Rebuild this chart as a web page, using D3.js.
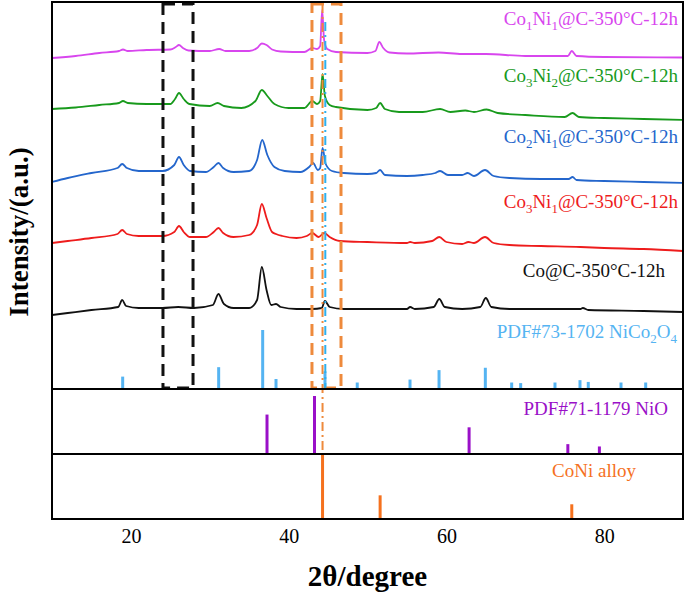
<!DOCTYPE html>
<html><head><meta charset="utf-8">
<script src="https://cdn.jsdelivr.net/npm/d3@7/dist/d3.min.js"></script>
<style>body{margin:0;background:#fff} svg{display:block}</style>
</head><body><svg id="c" width="685" height="595"></svg>
<script>
// ---------------- DATA ----------------
const xTickValues = [20, 40, 60, 80];

const seriesNames = ["Co_1Ni_1@C-350°C-12h", "Co_3Ni_2@C-350°C-12h", "Co_2Ni_1@C-350°C-12h", "Co_3Ni_1@C-350°C-12h", "Co@C-350°C-12h"];

const co1ni1Angle = [10,13,16,18.5,19,19.6,22,25,25.7,26.1,26.6,27.3,30,31.2,32,35,36.0,36.6,37.2,37.9,39,42,43.0,43.6,44.0,44.25,44.5,44.9,46,50,51.0,51.5,52.0,52.8,55,59,62,65,70,75.4,75.9,76.5,80,90];
const co1ni1Int   = [331,333,336,338,339.5,338,339,339.5,342,344,341,338.5,338,340,338,338,341,345.5,344,339.5,337.5,337,341,340,343,379,349,340,337,336,338,347,341,336.5,335.5,336.5,335,335,333,333,338,333,332,331.5];

const co3ni2Angle = [10,13,16,18.5,19.0,19.6,22,25,25.6,26.1,26.7,27.4,30,31.0,31.8,34,35.8,36.6,37.3,38.2,40,42,43.0,43.6,44.0,44.3,44.6,45.2,46,50,51.1,51.6,52.2,54,55.4,57,59.2,60.5,62.4,63.5,65.1,66.5,70,75,76.0,76.8,80,85,90];
const co3ni2Int   = [280,281.5,284,286,288,286,285,285,290,296,290,285,283,286,283,281,288,299,293,285,281,281,288,285,288,315,293,284,282,279,281,286,280,277,277,277,280,277,278.5,277,279.5,276,274,272,276,272,271,270,269];

const co2ni1Angle = [10,12,15,18.3,18.9,19.5,21,24,25.5,26.1,26.7,27.5,29.5,30.5,31.1,31.7,33,35,36.0,36.65,37.3,38.2,39.5,41.5,42.6,43.1,43.7,44.0,44.3,44.7,45.5,47,50,51.1,51.6,52.2,55,57,58.6,59.2,60.2,62,62.7,63.5,64.9,66,68,72,75.5,76.0,76.5,80,85,90];
const co2ni1Int   = [207,211,216,221,225,221,218,218,224,232,224,218,217,222,226,221,217,218,229,249,234,222,218,217,222,226,219,221,241,225,218,216,215,216,219,214,213,214,216,218,214,214,216,213,219,213,211,210,210,212,209,208,207,206];

const co3ni1Angle = [10,12,15,18.3,18.9,19.5,21,24,25.5,26.1,26.7,27.5,29.5,30.5,31.1,31.7,33,35,36.0,36.6,37.2,37.9,38.4,39.2,41,42.3,43.0,43.8,44.5,45.2,46.5,50,55,55.4,56,58.2,59.1,60,62,62.8,63.5,64.9,66,68,72,77,80,85,90];
const co3ni1Int   = [146,148,151,155,159,155,153,153,157,163,157,152,152,157,161,156,152,154,164,185,171,157,155,153,151,153,156,152,156,152,148,147,146,147,146,148,152,147,145,147,146,152,146,144,143,142,141,140,138];

const coAngle = [10,12,15,18.4,18.9,19.4,21,24,26,28,30.4,31.1,31.8,33,35,36.0,36.6,37.2,37.8,38.4,39.0,41,43,44.2,44.6,45.2,47,55,55.4,56,58.4,59.1,59.8,62,64.3,65.0,65.7,68,77,77.3,78,85,90];
const coInt   = [74,76,79,82,89,83,81,81,82,81,84,95,85,81,81,89,122,99,84,85,82,80,80,81,88,82,80,80,82,80,82,90,82,80,82,91,82,80,80,81,79,78,77];

// reference patterns (relative intensity, %)
const nico2o4Angle = [18.96,31.13,36.71,38.40,44.61,48.70,55.39,59.07,64.94,68.28,69.42,73.77,76.94,77.99,82.14,85.27];
const nico2o4Int   = [21,37,100,17,30,11,16,32,36,11,10,11,15,12,11,11];
const nioAngle = [37.26,43.28,62.88,75.4,79.4];
const nioInt   = [68,100,46,17,13];
const coniAngle = [44.3,51.6,75.9];
const coniInt   = [100,37,23];

const refNames = ["PDF#73-1702 NiCo_2O_4", "PDF#71-1179 NiO", "CoNi alloy"];
const xTitle = "2θ/degree";
const yTitle = "Intensity/(a.u.)";

// ---------------- LAYOUT ----------------
const L = 52, R = 683, T = 2, S1 = 389, S2 = 454, B = 519;
const FONT = "'Liberation Serif','Times New Roman',serif";
const svg = d3.select("#c");

const x = d3.scaleLinear().domain([10, 90]).range([L, R]);
const yTop = d3.scaleLinear().domain([0, 387]).range([S1, T]);
const yNico = d3.scaleLinear().domain([0, 100]).range([S1, 330]);
const yNio = d3.scaleLinear().domain([0, 100]).range([S2, 396]);
const yConi = d3.scaleLinear().domain([0, 100]).range([B, 455]);

const curveColors = ["#D846EE", "#189A1C", "#2466CC", "#EE1C1C", "#111111"];
const curveData = [
  [co1ni1Angle, co1ni1Int], [co3ni2Angle, co3ni2Int], [co2ni1Angle, co2ni1Int],
  [co3ni1Angle, co3ni1Int], [coAngle, coInt]
];
const labelPos = [[678, 25], [678, 82], [678, 143], [678, 208], [665, 277]];

svg.append("clipPath").attr("id", "pc").append("rect")
  .attr("x", L).attr("y", T).attr("width", R - L).attr("height", B - T);

const g = svg.append("g").attr("clip-path", "url(#pc)");

// curves
const line = d3.line().x(d => x(d[0])).y(d => yTop(d[1])).curve(d3.curveMonotoneX);
curveData.forEach((cd, i) => {
  const pts = cd[0].map((a, k) => [a, cd[1][k]]);
  g.append("path").attr("d", line(pts)).attr("fill", "none")
    .attr("stroke", curveColors[i]).attr("stroke-width", 1.8).attr("stroke-linejoin", "round");
});

// sticks
function sticks(angles, ints, ys, color) {
  g.selectAll(null).data(angles.map((a, k) => [a, ints[k]])).enter().append("line")
    .attr("x1", d => x(d[0])).attr("x2", d => x(d[0]))
    .attr("y1", ys(0)).attr("y2", d => ys(d[1]))
    .attr("stroke", color).attr("stroke-width", 3);
}
sticks(nico2o4Angle, nico2o4Int, yNico, "#55B4F2");
sticks(nioAngle, nioInt, yNio, "#9A10C8");
sticks(coniAngle, coniInt, yConi, "#F5711E");

// dashed boxes
function dbox(a0, a1, color) {
  g.append("rect").attr("x", x(a0)).attr("y", T + 2).attr("width", x(a1) - x(a0)).attr("height", S1 - 1 - T - 2)
    .attr("fill", "none").attr("stroke", color).attr("stroke-width", 3).attr("stroke-dasharray", "12,7");
}
dbox(24.07, 27.88, "#111");
dbox(42.96, 46.64, "#EE8A3C");

// dash-dot lines
g.append("line").attr("x1", x(44.3)).attr("x2", x(44.3)).attr("y1", T + 2).attr("y2", S2)
  .attr("stroke", "#EE8A3C").attr("stroke-width", 2).attr("stroke-dasharray", "9,4,2,4");
g.append("line").attr("x1", x(44.65)).attr("x2", x(44.65)).attr("y1", T + 20).attr("y2", S1)
  .attr("stroke", "#2DB0EE").attr("stroke-width", 2).attr("stroke-dasharray", "9,4,2,4");

// frame and separators
svg.append("rect").attr("x", L).attr("y", T).attr("width", R - L).attr("height", B - T)
  .attr("fill", "none").attr("stroke", "#000").attr("stroke-width", 2);
[S1, S2].forEach(s => svg.append("line").attr("x1", L).attr("x2", R).attr("y1", s).attr("y2", s)
  .attr("stroke", "#000").attr("stroke-width", 2));

// labels with subscripts
function label(str, px, py, color, size) {
  const t = svg.append("text").attr("x", px).attr("y", py).attr("text-anchor", "end")
    .attr("font-family", FONT).attr("font-size", size).attr("fill", color);
  const parts = str.split(/(_\d)/).filter(s => s.length);
  const shift = Math.round(size * 0.28);
  let pending = 0;
  parts.forEach(p => {
    if (p[0] === "_") {
      t.append("tspan").attr("dy", shift - pending).attr("font-size", Math.round(size * 0.68)).text(p.slice(1));
      pending = shift;
    } else {
      t.append("tspan").attr("dy", -pending).text(p);
      pending = 0;
    }
  });
}
seriesNames.forEach((n, i) => label(n, labelPos[i][0], labelPos[i][1], curveColors[i], 19));
label(refNames[0], 677, 338, "#55B4F2", 19);
label(refNames[1], 668, 415, "#9A10C8", 19);
label(refNames[2], 636, 477, "#F5711E", 19);

// x axis
const ax = svg.append("g").attr("transform", `translate(0,${B})`)
  .call(d3.axisBottom(x).tickValues(xTickValues).tickSize(0).tickPadding(10).tickFormat(d3.format("d")));
ax.select(".domain").remove();
ax.attr("font-family", FONT).attr("font-size", 20);
ax.selectAll("text").style("font-family", FONT).style("font-size", "20px").attr("fill", "#000");

svg.append("text").attr("x", (L + R) / 2).attr("y", 586).attr("text-anchor", "middle")
  .attr("font-family", FONT).attr("font-weight", "bold").attr("font-size", 29).text(xTitle);
svg.append("text").attr("transform", `translate(28,232) rotate(-90)`).attr("text-anchor", "middle")
  .attr("font-family", FONT).attr("font-weight", "bold").attr("font-size", 27).text(yTitle);
</script></body></html>
